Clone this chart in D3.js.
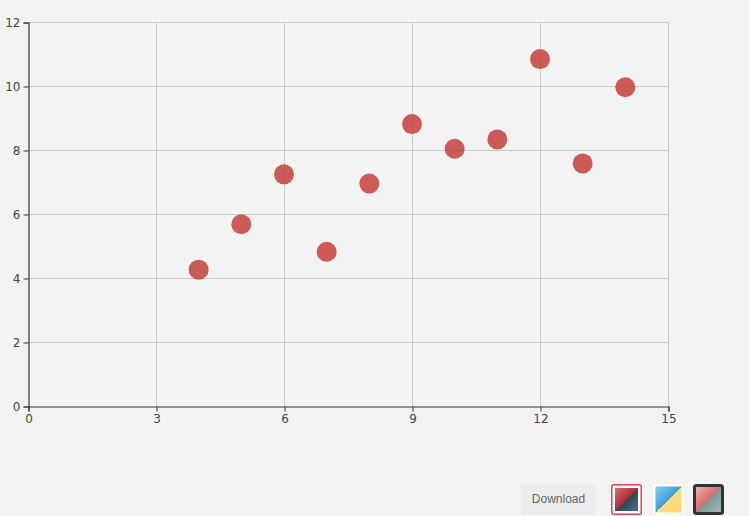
<!DOCTYPE html>
<html><head><meta charset="utf-8">
<script src="https://cdn.jsdelivr.net/npm/d3@7"></script>
<style>
html,body{margin:0;padding:0;background:#f3f3f3;}
svg{display:block;font-family:"Open Sans","Liberation Sans",Arial,sans-serif;}
</style></head>
<body>
<svg id="c" width="749" height="516"></svg>
<script>
const xValues = [10, 8, 13, 9, 11, 14, 6, 4, 12, 7, 5];
const yValues = [8.04, 6.95, 7.58, 8.81, 8.33, 9.96, 7.24, 4.26, 10.84, 4.82, 5.68];
const xTicks = [0, 3, 6, 9, 12, 15];
const yTicks = [0, 2, 4, 6, 8, 10, 12];
const buttonLabel = "Download";

const svg = d3.select("#c");
const m = {l: 28, t: 22, r: 668, b: 406};
const x = d3.scaleLinear().domain([0, 15]).range([m.l, m.r]);
const y = d3.scaleLinear().domain([0, 12]).range([m.b, m.t]);

// grid
const g = svg.append("g");
g.selectAll(".vx").data(xTicks.filter(d => d > 0)).join("line")
  .attr("x1", d => x(d) + 0.5).attr("x2", d => x(d) + 0.5)
  .attr("y1", m.t).attr("y2", m.b).attr("stroke", "#cccccc").attr("stroke-width", 1);
g.selectAll(".hy").data(yTicks.filter(d => d > 0)).join("line")
  .attr("y1", d => Math.round(y(d)) + 0.5).attr("y2", d => Math.round(y(d)) + 0.5)
  .attr("x1", m.l).attr("x2", m.r).attr("stroke", "#cccccc").attr("stroke-width", 1);

// axes
const xa = svg.append("g").attr("transform", `translate(0.5,${m.b + 0.5})`)
  .call(d3.axisBottom(x).tickValues(xTicks).tickSize(5).tickPadding(3).tickFormat(d3.format("d")));
const ya = svg.append("g").attr("transform", `translate(${m.l + 0.5},0.5)`)
  .call(d3.axisLeft(y).tickValues(yTicks).tickSize(5).tickPadding(3).tickFormat(d3.format("d")));
[xa, ya].forEach(a => {
  a.select(".domain").attr("stroke", "#333").attr("stroke-width", 1.2);
  a.selectAll(".tick line").attr("stroke", "#333");
  a.selectAll("text").attr("fill", "#444").attr("font-family", '"DejaVu Sans","Open Sans",Arial,sans-serif').attr("font-size", 12);
});

// points
svg.append("g").selectAll("circle").data(xValues.map((v, i) => [v, yValues[i]])).join("circle")
  .attr("cx", d => x(d[0])).attr("cy", d => y(d[1])).attr("r", 10)
  .attr("fill", "#c23531").attr("fill-opacity", 0.8);

// download button
svg.append("rect").attr("x", 521).attr("y", 484).attr("width", 75).attr("height", 30).attr("rx", 2)
  .attr("fill", "#ececec");
svg.append("text").attr("x", 558.5).attr("y", 503).attr("text-anchor", "middle")
  .attr("font-size", 12).attr("fill", "#666").attr("font-family", '"Liberation Sans",Arial,sans-serif').text(buttonLabel);

// theme swatches
const defs = svg.append("defs");
const themes = [
  {a1: "#d46e6e", a2: "#b52b2b", b1: "#2f4554", b2: "#4d6f84", border: "#e0405a", bw: 1.5, gap: true},
  {a1: "#86cdf0", a2: "#3c9fd8", b1: "#fde08a", b2: "#ffd36a", border: "#ffffff", bw: 2.5, gap: false},
  {a1: "#f0b4b0", a2: "#d96a66", b1: "#7b9c9c", b2: "#a3b8b8", border: "#333333", bw: 3, gap: false}
];
const sx = [611, 653, 693];
themes.forEach((t, i) => {
  const ga = defs.append("linearGradient").attr("id", "ga" + i).attr("x1", 0).attr("y1", 0).attr("x2", 1).attr("y2", 1);
  ga.append("stop").attr("offset", "0%").attr("stop-color", t.a1);
  ga.append("stop").attr("offset", "50%").attr("stop-color", t.a2);
  ga.append("stop").attr("offset", "50%").attr("stop-color", t.b1);
  ga.append("stop").attr("offset", "100%").attr("stop-color", t.b2);
  const s = 31;
  svg.append("rect").attr("x", sx[i] + t.bw / 2).attr("y", 484 + t.bw / 2)
    .attr("width", s - t.bw).attr("height", s - t.bw).attr("rx", 2)
    .attr("fill", t.gap ? "#ffffff" : "none").attr("stroke", t.border).attr("stroke-width", t.bw);
  const inset = t.gap ? 4 : t.bw;
  svg.append("rect").attr("x", sx[i] + inset).attr("y", 484 + inset)
    .attr("width", s - 2 * inset).attr("height", s - 2 * inset)
    .attr("fill", `url(#ga${i})`);
});
</script>
</body></html>
